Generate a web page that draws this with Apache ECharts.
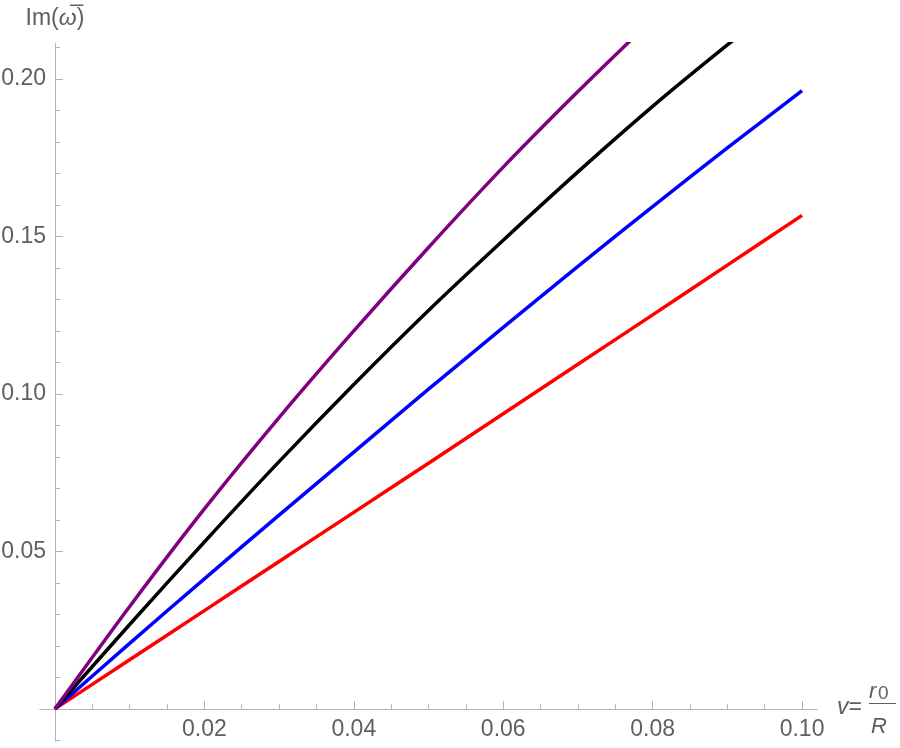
<!DOCTYPE html>
<html>
<head>
<meta charset="utf-8">
<script src="https://cdn.jsdelivr.net/npm/echarts@6/dist/echarts.min.js"></script>
<style>
  html, body { margin: 0; padding: 0; background: #fff; }
  #main { width: 900px; height: 748px; }
</style>
</head>
<body>
<div id="main"></div>
<script>
// sample positions on v = r0/R
var xs = [0, 0.01, 0.02, 0.03, 0.04, 0.05, 0.06, 0.07, 0.08, 0.09, 0.10]
// Im(omega bar) for the four curves
var redVals    = [0, 0.0156, 0.0312, 0.0468, 0.0624, 0.0780, 0.0937, 0.1094, 0.1251, 0.1409, 0.1567]
var blueVals   = [0, 0.0208, 0.0413, 0.0615, 0.0815, 0.1015, 0.1211, 0.1405, 0.1595, 0.1781, 0.1963]
var blackVals  = [0, 0.0268, 0.0530, 0.0785, 0.1030, 0.1265, 0.1488, 0.1705, 0.1913, 0.2108, 0.2295]
var purpleVals = [0, 0.0325, 0.0635, 0.0925, 0.1200, 0.1465, 0.1720, 0.1960, 0.2190]

// tick positions
var xMajorTicks = [0.02, 0.04, 0.06, 0.08, 0.10]
var xMinorTicks = [0.005, 0.01, 0.015, 0.02, 0.025, 0.03, 0.035, 0.04, 0.045, 0.05,
  0.055, 0.06, 0.065, 0.07, 0.075, 0.08, 0.085, 0.09, 0.095, 0.1]
var yMajorTicks = [0.05, 0.10, 0.15, 0.20]
var yMinorTicks = [-0.01, 0.01, 0.02, 0.03, 0.04, 0.05, 0.06, 0.07, 0.08, 0.09, 0.10,
  0.11, 0.12, 0.13, 0.14, 0.15, 0.16, 0.17, 0.18, 0.19, 0.20, 0.21]

var axisColor = '#b3b3b3'
var textColor = '#5f5f5f'
var fontFamily = '"Liberation Sans", Arial, sans-serif'

function pairs(vals) {
  return vals.map(function (v, i) { return [xs[i], v] })
}

var chart = echarts.init(document.getElementById('main'))

// axis lines + ticks, crossing at the origin (grid 0)
function lineAxis(dim, ticks, len) {
  return {
    type: 'value',
    gridIndex: 0,
    position: dim === 'x' ? 'bottom' : 'left',
    min: dim === 'x' ? -0.002 : -0.0102,
    max: dim === 'x' ? 0.102 : 0.2112,
    axisLine: { show: true, onZero: true, onZeroAxisIndex: 0, lineStyle: { color: axisColor, width: 1 } },
    axisTick: { show: true, inside: true, length: len, customValues: ticks, lineStyle: { color: axisColor } },
    axisLabel: { show: false },
    splitLine: { show: false }
  }
}

// tick labels only (grid 1, whose edges sit on the axes)
function labelAxis(dim, ticks) {
  return {
    type: 'value',
    gridIndex: 1,
    position: dim === 'x' ? 'bottom' : 'left',
    min: 0,
    max: dim === 'x' ? 0.102 : 0.2112,
    axisLine: { show: false, onZero: false },
    axisTick: { show: false },
    axisLabel: {
      show: true,
      customValues: ticks,
      margin: 9,
      color: textColor,
      fontSize: 23,
      fontFamily: fontFamily,
      formatter: function (v) { return v.toFixed(2) }
    },
    splitLine: { show: false }
  }
}

var yMain = lineAxis('y', yMinorTicks, 5)
yMain.name = 'Im({w|ω\u0305})'
yMain.nameLocation = 'end'
yMain.nameGap = 14
yMain.nameTextStyle = {
  color: textColor,
  fontSize: 23,
  fontFamily: fontFamily,
  rich: { w: { fontStyle: 'italic', fontSize: 23, color: textColor, fontFamily: fontFamily } }
}

function line(name, color, vals) {
  return {
    name: name,
    type: 'line',
    xAxisIndex: 0,
    yAxisIndex: 0,
    data: pairs(vals),
    showSymbol: false,
    smooth: 0.25,
    clip: true,
    lineStyle: { color: color, width: 3.5 },
    itemStyle: { color: color },
    z: 3
  }
}

var option = {
  backgroundColor: '#fff',
  animation: false,
  grid: [
    { left: 40, right: 83, top: 43.7, bottom: 7, containLabel: false, outerBoundsMode: 'none' },
    { left: 55, right: 83, top: 43.7, bottom: 39, containLabel: false, outerBoundsMode: 'none' }
  ],
  xAxis: [
    lineAxis('x', xMinorTicks, 4.5),
    lineAxis('x', xMajorTicks, 8),
    labelAxis('x', xMajorTicks)
  ],
  yAxis: [
    yMain,
    lineAxis('y', yMajorTicks, 8),
    labelAxis('y', yMajorTicks)
  ],
  series: [
    line('red', '#ff0000', redVals),
    line('blue', '#0000ff', blueVals),
    line('black', '#000000', blackVals),
    line('purple', '#800080', purpleVals)
  ],
  graphic: [
    { type: 'text', left: 837, top: 696, style: { text: '{i|v}=', fill: textColor, font: '23px ' + fontFamily,
      rich: { i: { fontStyle: 'italic', fontSize: 23, fontFamily: fontFamily, fill: textColor } } } },
    { type: 'text', left: 869, top: 681, style: { text: 'r', fill: textColor, font: 'italic 22px ' + fontFamily } },
    { type: 'text', left: 878, top: 684, style: { text: '0', fill: textColor, font: '19px ' + fontFamily } },
    { type: 'line', shape: { x1: 869, y1: 703.5, x2: 896, y2: 703.5 }, style: { stroke: textColor, lineWidth: 1 } },
    { type: 'text', left: 871, top: 716, style: { text: 'R', fill: textColor, font: 'italic 22px ' + fontFamily } }
  ]
}

chart.setOption(option)
</script>
</body>
</html>
